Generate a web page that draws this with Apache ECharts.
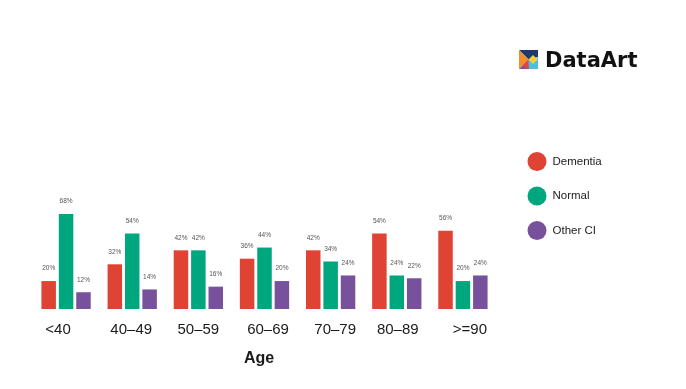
<!DOCTYPE html>
<html><head><meta charset="utf-8">
<script src="https://cdn.jsdelivr.net/npm/echarts@6/dist/echarts.min.js"></script>
<style>html,body{margin:0;padding:0;background:#fff}#c{width:686px;height:389px}</style>
</head><body><div id="c"></div>
<script>
const categories = ['<40', '40–49', '50–59', '60–69', '70–79', '80–89', '>=90'];
const dementia = [20, 32, 42, 36, 42, 54, 56];
const normal = [68, 54, 42, 44, 34, 24, 20];
const otherCI = [12, 14, 16, 20, 24, 22, 24];
const seriesNames = ['Dementia', 'Normal', 'Other CI'];
const xTitle = 'Age';
const brand = 'DataArt';

const colors = ['#de4334', '#00a67e', '#77519c'];
const labelShift = {'<40': [0, 16, 0, 0], '40–49': [0, 2, 0, 0], '50–59': [0, 0, 0, 0], '60–69': [0, 0, 0, 7], '70–79': [0, 0, 0, 9], '80–89': [0, 0, 0, 2], '>=90': [0, 0, 0, 14]};

const chart = echarts.init(document.getElementById('c'));
const mkSeries = (name, data, i) => ({
  name, type: 'bar', data, barWidth: 14.5, barGap: '20%',
  itemStyle: {color: colors[i]},
  label: {show: true, position: 'top', distance: 9, formatter: '{c}%', fontSize: 6.5,
    color: '#555', fontFamily: 'Liberation Sans, Arial, sans-serif'}
});
const rich = {};
categories.forEach((c, i) => { rich['r' + i] = {padding: labelShift[c], fontSize: 15, color: '#1a1a1a', fontFamily: 'Liberation Sans, Arial, sans-serif'}; });

chart.setOption({
  animation: false,
  backgroundColor: '#fff',
  grid: {left: 33, right: 190, top: 169.3, bottom: 80},
  xAxis: {
    type: 'category', data: categories,
    axisLine: {show: false}, axisTick: {show: false},
    axisLabel: {interval: 0, hideOverlap: false, margin: 13, formatter: (v, i) => '{r' + i + '|' + v + '}', rich},
    name: xTitle, nameLocation: 'middle', nameGap: 42,
    nameTextStyle: {fontSize: 16, fontWeight: 'bold', color: '#1a1a1a', padding: [0, 11, 0, 0], fontFamily: 'Liberation Sans, Arial, sans-serif'}
  },
  yAxis: {type: 'value', min: 0, max: 100, show: false},
  legend: {
    orient: 'vertical', left: 522.5, top: 147, icon: 'circle', itemWidth: 19, itemHeight: 19,
    itemGap: 15.5, data: seriesNames,
    textStyle: {fontSize: 11.5, color: '#222', padding: [0, 0, 0, 1], fontFamily: 'Liberation Sans, Arial, sans-serif'}
  },
  graphic: [
    {type: 'group', left: 519, top: 50, children: [
      {type: 'polygon', shape: {points: [[0,0],[19,0],[19,7],[9.5,9.5]]}, style: {fill: '#1e3a6c'}},
      {type: 'polygon', shape: {points: [[0,0],[9.5,9.5],[0,19]]}, style: {fill: '#f28e2b'}},
      {type: 'polygon', shape: {points: [[0,19],[9.5,9.5],[10,19]]}, style: {fill: '#8a4f9f'}},
      {type: 'polygon', shape: {points: [[9.5,9.5],[14,12],[19,7],[19,19],[10,19]]}, style: {fill: '#4dc0e0'}},
      {type: 'polygon', shape: {points: [[9.5,9.5],[14,5],[18.5,9.5],[14,14]]}, style: {fill: '#f6d03a'}},
      {type: 'polygon', shape: {points: [[4.5,14.5],[9.5,9.5],[9.5,19],[7,19]]}, style: {fill: '#e0463b'}}
    ]},
    {type: 'text', left: 545, top: 51, style: {text: brand, fontSize: 21, fontWeight: 'bold', fill: '#111', fontFamily: 'DejaVu Sans, sans-serif'}}
  ],
  series: [mkSeries(seriesNames[0], dementia, 0), mkSeries(seriesNames[1], normal, 1), mkSeries(seriesNames[2], otherCI, 2)]
});
</script></body></html>
